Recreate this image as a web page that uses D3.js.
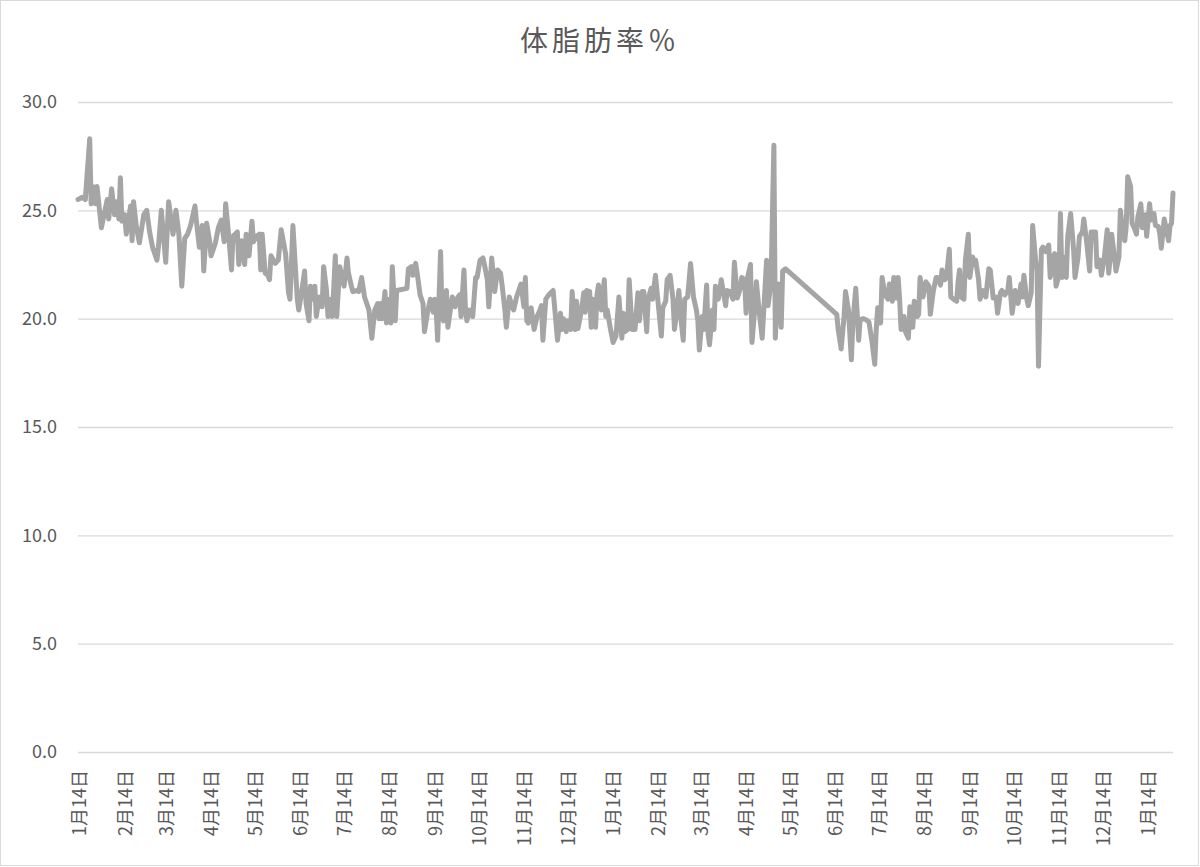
<!DOCTYPE html>
<html>
<head>
<meta charset="utf-8">
<script src="https://cdn.jsdelivr.net/npm/d3@7"></script>
<style>
  body { margin: 0; background: #fff; }
  svg { display: block; }
  text { font-family: "Noto Sans CJK JP", "Noto Sans", sans-serif; fill: #595959; }
</style>
</head>
<body>
<svg id="chart" width="1200" height="867"></svg>
<script>
// ---------- data ----------
const chartTitle = "体脂肪率％";
const startDate = "2019-01-13";
const dayOffsets = [
  0,3,5,8,9,10,12,13,16,20,21,23,25,26,28,29,30,32,33,36,37,38,40,42,45,47,49,51,54,55,57,60,62,65,67,69,71,73,75,77,80,81,83,85,86,
  88,90,91,94,96,98,100,101,103,105,106,109,110,112,114,115,117,119,120,122,124,125,126,128,130,131,132,135,137,139,142,144,145,147,150,151,153,155,156,158,159,161,162,163,165,167,168,170,171,173,174,176,177,179,182,184,
  185,187,188,191,192,194,196,199,201,203,205,206,207,208,210,211,213,214,215,217,218,225,226,228,229,231,232,234,236,237,239,241,243,244,245,246,248,249,250,252,253,255,256,258,259,261,262,264,265,266,268,270,272,273,275,277,278,280,281,
  283,285,287,289,290,292,293,295,297,298,300,302,303,305,306,307,308,310,312,314,316,317,318,320,322,325,326,328,330,331,332,334,335,337,338,340,341,342,344,346,347,348,350,351,352,354,355,356,358,360,361,362,364,366,368,370,372,373,374,376,377,
  379,381,383,384,386,387,389,390,392,393,395,396,399,400,402,403,405,407,408,410,411,412,414,415,417,419,421,423,424,425,427,428,430,431,432,434,435,436,438,440,443,444,446,448,449,451,453,454,456,457,458,460,461,463,464,466,468,471,472,474,476,477,478,479,481,482,484,
  519,520,522,524,525,527,529,530,532,534,535,537,539,541,543,545,546,547,549,550,552,554,
  555,557,558,560,561,562,563,565,566,568,569,571,572,574,575,576,578,580,582,583,585,587,588,590,591,593,594,596,597,599,601,602,603,604,606,607,609,610,612,613,614,616,617,619,621,623,624,626,628,629,631,632,634,636,637,639,641,642,643,645,646,647,649,650,652,653,655,656,657,659,660,662,664,665,667,668,669,671,672,673,674,676,677,679,681,682,684,685,687,688,690,692,693,694,696,697,699,700,702,704,705,706,707,709,710,712,713,715,716,717,718,720,721,723,724,725,727,728,730,731,733,734,736,737,739,740,741,743,744,746,747,748,749
];
const values = [
  25.5,25.6,25.5,28.3,25.3,26.1,25.3,26.1,24.2,25.5,24.6,26.0,24.8,25.4,24.6,26.5,24.5,24.8,23.9,25.2,23.6,25.4,24.2,23.5,24.8,25.0,24.0,23.3,22.7,23.3,25.0,22.6,25.4,23.9,25.0,23.9,21.5,23.7,23.9,24.3,25.2,24.5,23.3,24.3,22.2,
  24.4,23.6,22.9,23.5,24.2,24.55,23.55,25.3,23.9,22.25,23.8,24.0,22.5,23.6,22.5,23.9,22.9,24.5,23.55,23.8,23.9,22.25,23.9,22.1,22.0,21.8,22.9,22.55,22.7,24.1,23.0,21.2,20.9,24.3,20.9,20.4,21.25,22.2,20.7,19.9,21.5,20.9,21.5,20.1,21.0,20.55,22.4,21.3,20.1,20.9,20.1,22.9,20.1,22.4,21.5,22.8,
  22.1,21.5,21.25,21.3,21.25,21.9,21.0,20.4,19.1,20.4,20.7,20.0,20.7,20.0,21.25,19.8,20.9,19.8,22.4,19.9,21.3,21.4,22.3,22.4,22.0,22.55,22.1,21.1,20.7,19.4,20.25,20.9,20.3,20.9,20.4,19.0,23.1,20.1,19.9,21.3,19.6,20.55,21.0,20.55,20.9,21.1,20.1,22.25,20.5,19.9,20.4,20.1,21.9,21.9,22.7,22.8,22.5,21.8,20.55,
  22.8,21.25,22.25,22.1,21.6,20.4,19.6,21.0,20.55,20.4,21.0,21.4,21.6,20.55,21.9,19.9,19.8,20.5,19.5,20.1,20.4,20.6,19.0,20.9,21.1,21.3,20.55,19.0,20.25,19.5,20.0,19.4,19.9,19.5,21.25,19.5,20.8,19.55,20.25,21.2,20.3,21.3,21.25,19.6,20.9,19.6,21.1,21.55,20.4,21.8,20.1,20.4,19.6,18.9,19.2,21.0,19.1,20.25,19.4,19.5,21.8,
  19.5,19.5,21.2,19.9,21.25,21.25,19.4,20.9,21.4,20.9,22.0,21.3,19.2,20.5,20.8,21.8,22.0,20.9,19.5,20.55,21.3,20.25,19.0,20.9,21.0,22.55,21.0,20.4,19.9,18.55,20.1,19.5,21.55,19.3,18.8,20.4,19.5,21.5,20.9,21.8,20.6,21.3,21.25,20.9,22.6,20.95,21.4,21.9,21.8,20.25,21.9,22.5,18.9,20.5,21.7,20.3,19.1,22.7,20.6,21.6,28.0,19.1,20.8,21.6,19.6,22.2,22.3,
  20.2,19.5,18.6,20.1,21.25,20.4,18.1,19.8,21.4,19.0,19.95,20.0,19.95,19.85,19.0,17.9,19.5,20.5,19.8,21.9,21.1,20.9,
  21.6,20.8,21.9,20.95,21.9,20.9,19.5,20.1,19.4,19.1,20.55,19.6,20.8,20.1,20.2,21.9,21.0,21.7,21.5,20.2,21.25,21.9,21.9,21.55,22.25,21.8,21.9,23.2,21.0,20.9,20.8,21.7,22.25,21.0,20.9,22.7,23.9,21.9,22.85,22.5,22.7,21.8,20.9,21.3,21.0,22.3,22.25,20.95,21.0,20.25,21.2,21.3,21.1,21.3,21.9,20.25,21.3,21.0,20.7,21.6,21.0,22.0,20.9,20.6,21.2,24.3,22.7,22.25,17.8,23.2,23.3,23.1,23.4,21.9,22.85,23.0,21.5,22.0,24.85,21.9,22.85,21.9,23.8,24.85,23.2,21.9,22.8,23.8,24.0,24.6,23.5,22.2,24.0,24.0,24.0,22.4,22.7,22.0,22.8,24.1,22.1,22.8,23.9,22.85,22.2,22.85,25.0,23.8,23.6,24.25,26.55,26.1,24.4,24.1,23.9,24.7,25.3,24.2,24.8,23.8,25.3,24.55,24.85,24.3,24.25,23.9,23.25,24.6,24.25,23.6,24.3,24.4,25.8
];
const yTickValues = [0, 5, 10, 15, 20, 25, 30];
const xTickDates = [
  "2019-01-14","2019-02-14","2019-03-14","2019-04-14","2019-05-14","2019-06-14","2019-07-14","2019-08-14","2019-09-14","2019-10-14","2019-11-14","2019-12-14",
  "2020-01-14","2020-02-14","2020-03-14","2020-04-14","2020-05-14","2020-06-14","2020-07-14","2020-08-14","2020-09-14","2020-10-14","2020-11-14","2020-12-14",
  "2021-01-14"
];

// ---------- chart ----------
const parse = d3.timeParse("%Y-%m-%d");
const start = parse(startDate);
const points = dayOffsets.map((o, i) => ({ date: d3.timeDay.offset(start, o), value: values[i] }));
const lastOffset = d3.max(dayOffsets);

const plot = { left: 78, right: 1173, top: 102, bottom: 752 };
const svg = d3.select("#chart");

svg.append("rect")
  .attr("x", 0.5).attr("y", 0.5).attr("width", 1198).attr("height", 865)
  .attr("fill", "#fff").attr("stroke", "#d9d9d9").attr("stroke-width", 1);

const x = d3.scaleTime()
  .domain([start, d3.timeDay.offset(start, lastOffset)])
  .range([plot.left, plot.right]);
const y = d3.scaleLinear().domain([0, 30]).range([plot.bottom, plot.top]);

// gridlines + y labels
const yAxis = d3.axisLeft(y)
  .tickValues(yTickValues)
  .tickFormat(d3.format(".1f"))
  .tickSize(-(plot.right - plot.left))
  .tickPadding(21);
const gy = svg.append("g").attr("transform", `translate(${plot.left},0)`).call(yAxis);
gy.select(".domain").remove();
gy.selectAll(".tick line").attr("stroke", "#d9d9d9").attr("stroke-width", 1.3);
gy.selectAll(".tick text").attr("font-size", 18).style("font-family", '"Noto Sans CJK JP", "Noto Sans", sans-serif').attr("fill", "#595959");

// x axis labels
const fmt = d => `${d.getMonth() + 1}月${d.getDate()}日`;
const xAxis = d3.axisBottom(x)
  .tickValues(xTickDates.map(parse))
  .tickFormat(fmt)
  .tickSize(0);
const gx = svg.append("g").attr("transform", `translate(0,${plot.bottom})`).call(xAxis);
gx.select(".domain").remove();
gx.selectAll(".tick text")
  .attr("transform", "rotate(-90)")
  .attr("x", -18).attr("y", 0).attr("dy", "0.36em")
  .style("text-anchor", "end")
  .attr("font-size", 18)
  .style("font-family", '"Noto Sans CJK JP", "Noto Sans", sans-serif')
  .attr("fill", "#595959");

// line
const line = d3.line().x(d => x(d.date)).y(d => y(d.value));
svg.append("path")
  .datum(points)
  .attr("d", line)
  .attr("fill", "none")
  .attr("stroke", "#a5a5a5")
  .attr("stroke-width", 5)
  .attr("stroke-linejoin", "round")
  .attr("stroke-linecap", "round");

// title
svg.append("text")
  .attr("x", 600).attr("y", 51)
  .attr("text-anchor", "middle")
  .attr("font-size", 28)
  .style("letter-spacing", "4px")
  .attr("fill", "#595959")
  .text(chartTitle);
</script>
</body>
</html>
